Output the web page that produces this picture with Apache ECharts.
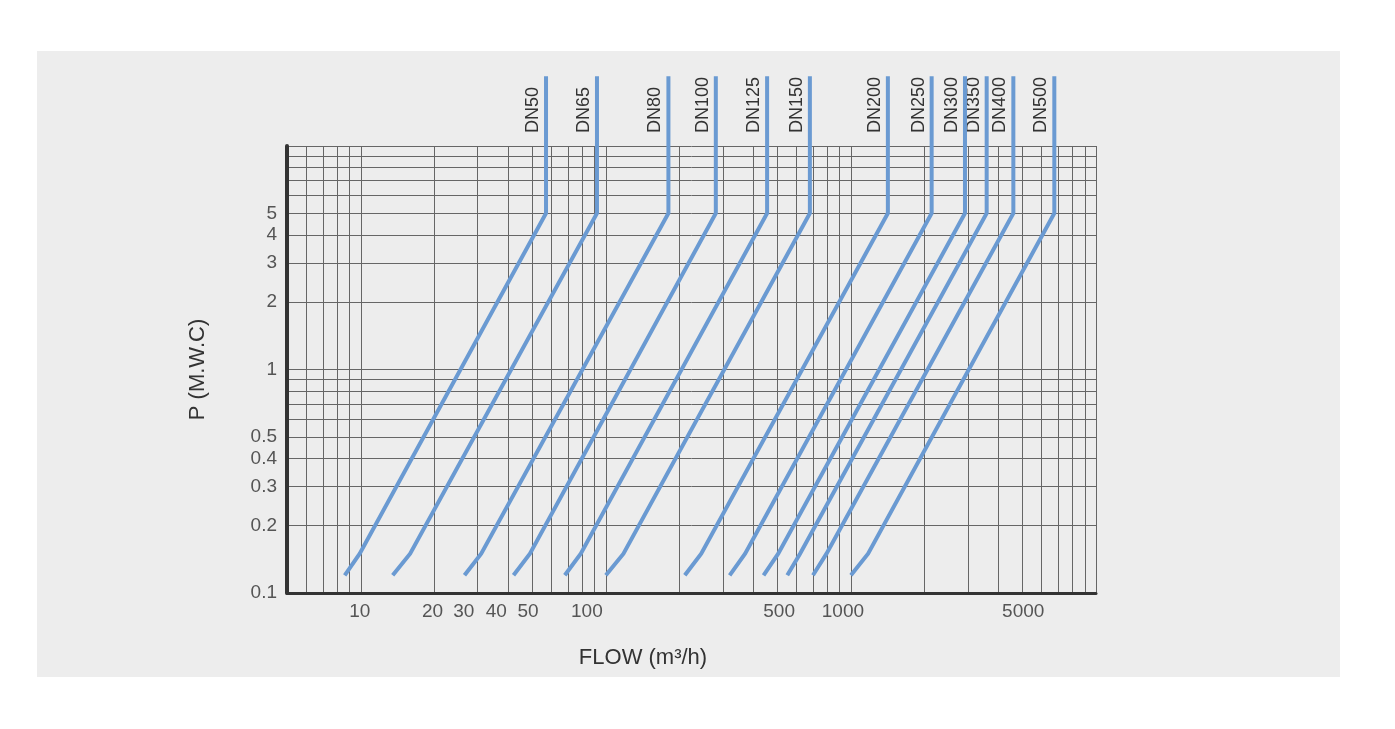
<!DOCTYPE html>
<html>
<head>
<meta charset="utf-8">
<title>DN flow chart</title>
<script src="https://cdn.jsdelivr.net/npm/echarts@6/dist/echarts.min.js"></script>
<style>
  html, body { margin: 0; padding: 0; background: #fff; }
  #chart { width: 1395px; height: 729px; }
</style>
</head>
<body>
<div id="chart"></div>
<script>
// valve sizes and the flow (m3/h) read at each pressure point
const sizes = ['DN50', 'DN65', 'DN80', 'DN100', 'DN125', 'DN150', 'DN200', 'DN250', 'DN300', 'DN350', 'DN400', 'DN500']
const flowStart = [8.6, 13.5, 26.5, 42, 68, 100, 210, 320, 440, 550, 700, 1000]
const flowBend = [9.9, 15.9, 31, 49, 79, 118, 245, 370, 505, 620, 795, 1175]
const flowTop = [57, 92, 180, 281, 455, 680, 1415, 2135, 2920, 3580, 4600, 6760]
// pressure (M.W.C) at start, bend, top corner and end of the vertical part
const pressurePoints = [0.12, 0.15, 5, 20.5]

// axis ticks
const xLabels = [10, 20, 30, 40, 50, 100, 500, 1000, 5000]
const yLabels = [0.1, 0.2, 0.3, 0.4, 0.5, 1, 2, 3, 4, 5]
// the printed x labels sit a little off their grid lines (px, + is right)
const xLabelNudge = [-1, -2, -14, -12, -4, -19, 2, -8, 1]

function logGrid(from, to) {
  const out = []
  for (let d = from; d < to; d *= 10) {
    for (let m = 1; m < 10; m++) {
      out.push(Number((m * d).toPrecision(6)))
    }
  }
  out.push(to)
  return out
}
const xGrid = logGrid(1, 10000).filter(v => v >= 5)
const yGrid = logGrid(0.1, 10)

const lineColor = '#6a9ad2'
const textFont = 'Liberation Sans, Arial, sans-serif'

// rich styles that shift each x label sideways
const xRich = {}
xLabels.forEach((v, i) => {
  const n = xLabelNudge[i]
  xRich['n' + i] = {
    color: '#555',
    fontSize: 19,
    fontFamily: textFont,
    padding: n < 0 ? [0, -2 * n, 0, 0] : [0, 0, 0, 2 * n]
  }
})

const chart = echarts.init(document.getElementById('chart'))

const series = sizes.map((name, i) => ({
  name: name,
  type: 'line',
  data: [
    [flowStart[i], pressurePoints[0]],
    [flowBend[i], pressurePoints[1]],
    [flowTop[i], pressurePoints[2]],
    [flowTop[i], pressurePoints[3]]
  ],
  showSymbol: false,
  clip: false,
  silent: true,
  z: 5,
  lineStyle: {
    color: lineColor,
    width: 4,
    join: 'miter'
  }
}))

const panel = {
  type: 'rect',
  z: -10,
  silent: true,
  shape: { x: 37, y: 51, width: 1303, height: 626 },
  style: { fill: '#ededed' }
}

chart.setOption({
  backgroundColor: '#fff',
  animation: false,
  grid: {
    left: 287,
    right: 299,
    top: 146,
    bottom: 136
  },
  graphic: [panel],
  xAxis: {
    type: 'log',
    min: 5,
    max: 10000,
    name: 'FLOW (m³/h)',
    nameLocation: 'middle',
    nameGap: 52,
    nameTextStyle: {
      color: '#333',
      fontSize: 22,
      fontFamily: textFont,
      padding: [2, 97, 0, 0]
    },
    axisLine: {
      show: true,
      onZero: false,
      lineStyle: { color: '#333', width: 3 }
    },
    axisTick: { show: false, customValues: xGrid },
    axisLabel: {
      customValues: xLabels,
      color: '#555',
      fontSize: 19,
      fontFamily: textFont,
      margin: 9,
      rich: xRich,
      formatter: v => '{n' + xLabels.indexOf(v) + '|' + v + '}'
    },
    splitLine: {
      show: true,
      lineStyle: { color: '#666', width: 1 }
    }
  },
  yAxis: {
    type: 'log',
    min: 0.1,
    max: 10,
    name: 'P (M.W.C)',
    nameLocation: 'middle',
    nameGap: 78,
    nameTextStyle: {
      color: '#333',
      fontSize: 22,
      fontFamily: textFont
    },
    axisLine: {
      show: true,
      onZero: false,
      lineStyle: { color: '#333', width: 4 }
    },
    axisTick: { show: false, customValues: yGrid },
    axisLabel: {
      customValues: yLabels,
      color: '#555',
      fontSize: 19,
      fontFamily: textFont,
      margin: 10,
      formatter: v => String(v)
    },
    splitLine: {
      show: true,
      lineStyle: { color: '#666', width: 1 }
    }
  },
  series: series
})

// size labels, rotated, sitting just left of each vertical line above the plot
const gridTop = 146
const sizeLabels = sizes.map((name, i) => {
  const pt = chart.convertToPixel({ gridIndex: 0 }, [flowTop[i], pressurePoints[3]])
  return {
    type: 'text',
    silent: true,
    x: pt[0] - 4,
    y: gridTop - 13,
    rotation: Math.PI / 2,
    style: {
      text: name,
      fill: '#333',
      font: '18px ' + textFont,
      align: 'left',
      verticalAlign: 'bottom'
    }
  }
})

chart.setOption({
  graphic: [panel].concat(sizeLabels)
})
</script>
</body>
</html>
